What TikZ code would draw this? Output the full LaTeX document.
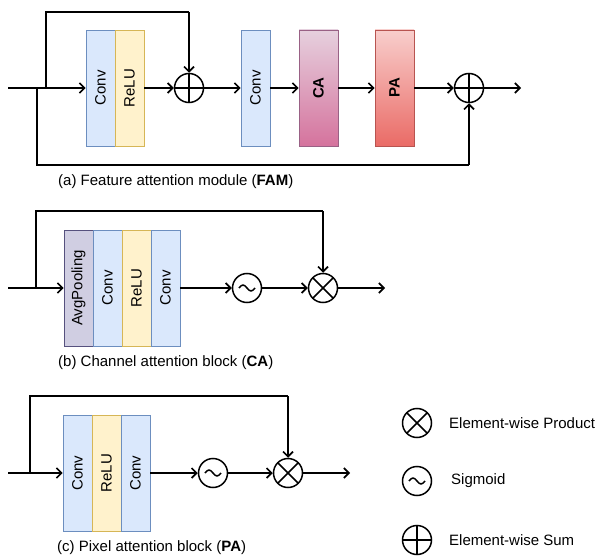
\documentclass[tikz,border=0pt]{standalone}
\usepackage{fontspec}
\setmainfont{Liberation Sans}
\usetikzlibrary{arrows.meta,calc}

\definecolor{convfill}{HTML}{DAE8FC}
\definecolor{convline}{HTML}{6C8EBF}
\definecolor{relufill}{HTML}{FFF2CC}
\definecolor{reluline}{HTML}{D6B656}
\definecolor{poolfill}{HTML}{D0CEE2}
\definecolor{poolline}{HTML}{56517E}
\definecolor{catop}{HTML}{E6D0DE}
\definecolor{cabot}{HTML}{D5739D}
\definecolor{caline}{HTML}{996185}
\definecolor{patop}{HTML}{F8CECC}
\definecolor{pabot}{HTML}{EA6B66}
\definecolor{paline}{HTML}{B85450}

\tikzset{
  layer/.style={draw, line width=0.9pt, minimum width=29pt, minimum height=116pt, inner sep=0pt},
  convbox/.style={layer, fill=convfill, draw=convline},
  relubox/.style={layer, fill=relufill, draw=reluline},
  poolbox/.style={layer, fill=poolfill, draw=poolline},
  cabox/.style={layer, minimum width=39pt, draw=caline, top color=catop, bottom color=cabot},
  pabox/.style={layer, minimum width=39pt, draw=paline, top color=patop, bottom color=pabot},
  op/.style={circle, draw, line width=1.5pt, minimum size=29pt, inner sep=0pt},
  sumop/.style={op, path picture={
      \draw[line width=1.5pt] (path picture bounding box.north) -- (path picture bounding box.south)
        (path picture bounding box.west) -- (path picture bounding box.east);}},
  prodop/.style={op, path picture={
      \draw[line width=1.5pt]
        ($(path picture bounding box.center)+(45:16pt)$) -- ($(path picture bounding box.center)+(225:16pt)$)
        ($(path picture bounding box.center)+(135:16pt)$) -- ($(path picture bounding box.center)+(315:16pt)$);}},
  sigop/.style={op, path picture={
      \draw[line width=1.5pt] ([xshift=-8pt]path picture bounding box.center)
        sin ++(4pt,3pt) cos ++(4pt,-3pt) sin ++(4pt,-3pt) cos ++(4pt,3pt);}},
  conn/.style={line width=1.6pt, -{Straight Barb[length=5pt,width=10pt]}},
  link/.style={line width=1.6pt},
  caption/.style={anchor=west, inner sep=0pt},
}

\begin{document}
\begin{tikzpicture}[x=1pt, y=-1pt, font=\fontsize{15}{18}\selectfont]
\useasboundingbox (0,0) rectangle (600,559);

% ---------- (a) Feature attention module ----------
\node[convbox] (a-conv1) at (100.5,88) {\rotatebox{90}{Conv}};
\node[relubox] (a-relu)  at (129.5,88) {\rotatebox{90}{ReLU}};
\node[sumop]   (a-sum1)  at (189,88) {};
\node[convbox] (a-conv2) at (255.5,88) {\rotatebox{90}{Conv}};
\node[cabox]   (a-ca)    at (318.5,88) {\rotatebox{90}{\textbf{CA}}};
\node[pabox]   (a-pa)    at (394.5,88) {\rotatebox{90}{\textbf{PA}}};
\node[sumop]   (a-sum2)  at (469,88) {};

\coordinate (a-in)  at (8,88);
\coordinate (a-up)  at (46,88);
\coordinate (a-dn)  at (37,88);
\coordinate (a-top) at (189,12);
\coordinate (a-bot) at (469,165);
\coordinate (a-out) at (521,88);

\draw[conn] (a-in) -- (a-conv1);
\draw[link] (a-up) |- (a-top);
\draw[conn] (a-top) -- (a-sum1);
\draw[link] (a-dn) |- (a-bot);
\draw[conn] (a-bot) -- (a-sum2);
\draw[conn] (a-relu) -- (a-sum1);
\draw[conn] (a-sum1) -- (a-conv2);
\draw[conn] (a-conv2) -- (a-ca);
\draw[conn] (a-ca) -- (a-pa);
\draw[conn] (a-pa) -- (a-sum2);
\draw[conn] (a-sum2) -- (a-out);

\node[caption] (a-cap) at (58,182) {(a) Feature attention module (\textbf{FAM})};

% ---------- (b) Channel attention block ----------
\node[poolbox] (b-pool)  at (78.5,288)  {\rotatebox{90}{AvgPooling}};
\node[convbox] (b-conv1) at (107.5,288) {\rotatebox{90}{Conv}};
\node[relubox] (b-relu)  at (136.5,288) {\rotatebox{90}{ReLU}};
\node[convbox] (b-conv2) at (165.5,288) {\rotatebox{90}{Conv}};
\node[sigop]   (b-sig)   at (247,288) {};
\node[prodop]  (b-prod)  at (323,288) {};

\coordinate (b-in)  at (8,288);
\coordinate (b-up)  at (36,288);
\coordinate (b-top) at (323,211);
\coordinate (b-out) at (385,288);

\draw[conn] (b-in) -- (b-pool);
\draw[link] (b-up) |- (b-top);
\draw[conn] (b-top) -- (b-prod);
\draw[conn] (b-conv2) -- (b-sig);
\draw[conn] (b-sig) -- (b-prod);
\draw[conn] (b-prod) -- (b-out);

\node[caption] (b-cap) at (58,363) {(b) Channel attention block (\textbf{CA})};

% ---------- (c) Pixel attention block ----------
\node[convbox] (c-conv1) at (77.5,473)  {\rotatebox{90}{Conv}};
\node[relubox] (c-relu)  at (106.5,473) {\rotatebox{90}{ReLU}};
\node[convbox] (c-conv2) at (135.5,473) {\rotatebox{90}{Conv}};
\node[sigop]   (c-sig)   at (213,473) {};
\node[prodop]  (c-prod)  at (288,473) {};

\coordinate (c-in)  at (8,473);
\coordinate (c-up)  at (30,473);
\coordinate (c-top) at (288,396);
\coordinate (c-out) at (350,473);

\draw[conn] (c-in) -- (c-conv1);
\draw[link] (c-up) |- (c-top);
\draw[conn] (c-top) -- (c-prod);
\draw[conn] (c-conv2) -- (c-sig);
\draw[conn] (c-sig) -- (c-prod);
\draw[conn] (c-prod) -- (c-out);

\node[caption] (c-cap) at (57,548) {(c) Pixel attention block (\textbf{PA})};

% ---------- legend ----------
\node[prodop] (l-prod) at (417,423) {};
\node[caption] (l-prod-t) at (449,423) {Element-wise Product};
\node[sigop]  (l-sig)  at (417,481) {};
\node[caption] (l-sig-t) at (451,481) {Sigmoid};
\node[sumop]  (l-sum)  at (417,540) {};
\node[caption] (l-sum-t) at (449,540) {Element-wise Sum};
\end{tikzpicture}
\end{document}
